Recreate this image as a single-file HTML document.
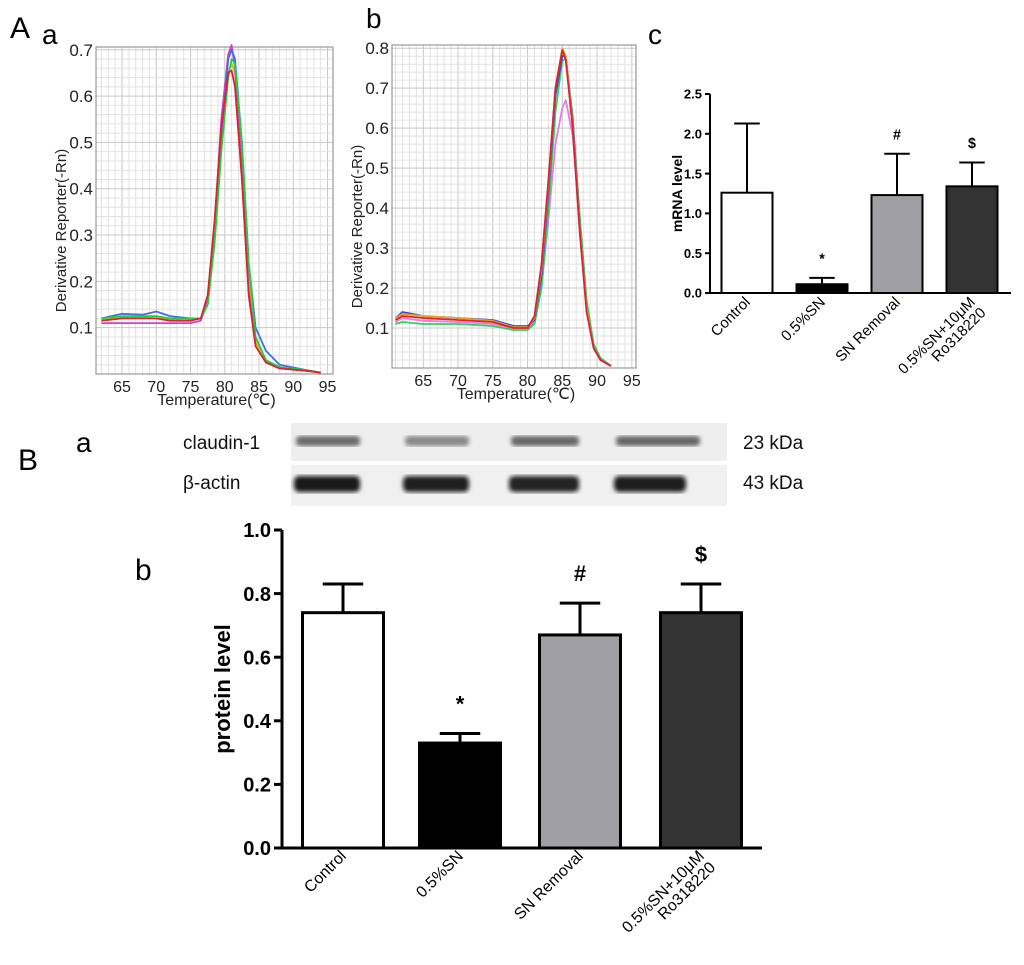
<!DOCTYPE html>
<html><head><meta charset="utf-8"><style>
html,body{margin:0;padding:0;background:#fff;}
svg{display:block;font-family:"Liberation Sans",Arial,sans-serif;}
</style></head><body>
<svg id="fig" width="1024" height="965" viewBox="0 0 1024 965" xmlns="http://www.w3.org/2000/svg">
<defs><filter id="blur"><feGaussianBlur stdDeviation="2.2"/></filter></defs>
<g id="root"></g>
</svg>
<script>
// ---- Melt curve data (panel A a) ----
const meltA_temps = [62,65,68,70,72,75,76.5,77.5,78.5,79.5,80.5,81,81.5,82.5,83.5,84.5,86,88,92,94];
const meltA_red    = [0.115,0.12,0.12,0.12,0.115,0.115,0.12,0.17,0.33,0.53,0.65,0.655,0.62,0.42,0.17,0.06,0.025,0.012,0.007,0.003];
const meltA_green  = [0.12,0.125,0.125,0.125,0.12,0.12,0.12,0.15,0.28,0.48,0.64,0.68,0.67,0.5,0.24,0.08,0.03,0.015,0.008,0.003];
const meltA_blue   = [0.12,0.13,0.128,0.135,0.125,0.12,0.12,0.15,0.29,0.5,0.68,0.70,0.68,0.5,0.24,0.1,0.05,0.02,0.008,0.003];
const meltA_purple = [0.11,0.11,0.11,0.11,0.11,0.11,0.115,0.16,0.32,0.55,0.69,0.71,0.66,0.44,0.18,0.06,0.025,0.012,0.007,0.003];
const meltA_yellow = [0.118,0.122,0.122,0.12,0.118,0.118,0.12,0.155,0.3,0.5,0.65,0.67,0.65,0.47,0.21,0.07,0.028,0.013,0.007,0.003];
// ---- Melt curve data (panel A b) ----
const meltB_temps = [61,62,65,70,75,78,80,81,82,83,84,85,85.5,86.5,87.5,88.5,89.5,90.5,92];
const meltB_red    = [0.12,0.13,0.125,0.12,0.115,0.1,0.1,0.13,0.26,0.47,0.7,0.795,0.77,0.6,0.34,0.14,0.05,0.02,0.005];
const meltB_green  = [0.11,0.115,0.11,0.11,0.105,0.095,0.095,0.11,0.2,0.4,0.64,0.77,0.77,0.63,0.38,0.17,0.06,0.025,0.005];
const meltB_blue   = [0.125,0.14,0.13,0.125,0.12,0.105,0.105,0.12,0.23,0.44,0.68,0.78,0.78,0.62,0.36,0.15,0.05,0.02,0.005];
const meltB_orange = [0.125,0.135,0.13,0.125,0.118,0.102,0.102,0.125,0.25,0.46,0.7,0.8,0.78,0.61,0.35,0.15,0.05,0.02,0.005];
const meltB_pink   = [0.115,0.125,0.118,0.115,0.11,0.1,0.1,0.115,0.2,0.37,0.56,0.65,0.67,0.58,0.36,0.16,0.06,0.02,0.005];
// ---- Bar data ----
const categories = ["Control","0.5%SN","SN Removal","0.5%SN+10μM\nRo318220"];
const mrnaValues = [1.26,0.11,1.23,1.34];
const mrnaErrors = [0.87,0.08,0.52,0.30];
const mrnaMarks  = ["","*","#","$"];
const mrnaTicks  = [0,0.5,1.0,1.5,2.0,2.5];
const protValues = [0.74,0.33,0.67,0.74];
const protErrors = [0.09,0.03,0.10,0.09];
const protMarks  = ["","*","#","$"];
const protTicks  = [0,0.2,0.4,0.6,0.8,1.0];
const barFills   = ["#ffffff","#000000","#a0a0a4","#333333"];
const meltATicksX = [65,70,75,80,85,90,95];
const meltATicksY = [0.1,0.2,0.3,0.4,0.5,0.6,0.7];
const meltBTicksY = [0.1,0.2,0.3,0.4,0.5,0.6,0.7,0.8];
const bandClaudin=[0.7,0.55,0.72,0.72];
const bandActin=[0.95,0.92,0.9,0.93];

const NS="http://www.w3.org/2000/svg";
const root=document.getElementById('root');
function mk(tag,attrs,parent,text){const e=document.createElementNS(NS,tag);for(const k in attrs)e.setAttribute(k,attrs[k]);if(text!==undefined)e.textContent=text;(parent||root).appendChild(e);return e;}

function label(txt,x,y,size){const t=mk('text',{x:x,y:y,'font-size':size,fill:'#000'},root,txt);

return t;}
label('A',10,38,30);label('a',42,44,28);label('b',366,28,28);label('c',648,44,28);
label('B',18,470,30);label('a',76,452,28);label('b',135,580,30);

function meltPanel(name,L,R,T,B,xmin,xmax,ymax,temps,series,colors,ticksY){
  const g=mk('g',{});
  
  
  const sx=v=>L+(v-xmin)/(xmax-xmin)*(R-L);
  const sy=v=>B-v/ymax*(B-T);
  for(let t=Math.ceil(xmin);t<=xmax;t++){const x=sx(t);mk('line',{x1:x,x2:x,y1:T,y2:B,stroke:t%5==0?'#c8c8c8':'#e2e2e2','stroke-width':1},g);}
  for(let v=0.02;v<ymax;v+=0.02){const y=sy(v);const major=Math.abs(v*10-Math.round(v*10))<1e-6;mk('line',{x1:L,x2:R,y1:y,y2:y,stroke:major?'#c8c8c8':'#e2e2e2','stroke-width':1},g);}
  mk('rect',{x:L,y:T,width:R-L,height:B-T,fill:'none',stroke:'#999','stroke-width':1.2},g);
  series.forEach((s,i)=>{
    const pts=temps.map((t,j)=>sx(t).toFixed(1)+','+sy(s[j]).toFixed(1)).join(' ');
    const p=mk('polyline',{points:pts,fill:'none',stroke:colors[i],'stroke-width':1.8,'stroke-linejoin':'round'},g);
    
    
  });
  ticksY.forEach(v=>{const t=mk('text',{x:L-3,y:sy(v)+6,'font-size':17,'text-anchor':'end',fill:'#222'},g,v.toFixed(1));
    
    });
  meltATicksX.forEach(v=>{const t=mk('text',{x:sx(v),y:B+18,'font-size':16,'text-anchor':'middle',fill:'#222'},g,String(v));
    
    });
  const xt=mk('text',{x:(L+R)/2+2,y:B+31,'font-size':16,'text-anchor':'middle',fill:'#222'},g,'Temperature(℃)');
  
  
  const yt=mk('text',{x:0,y:0,'font-size':15,'text-anchor':'middle',fill:'#222',transform:`translate(${L-30},${(T+B)/2+20}) rotate(-90)`},g,'Derivative Reporter(-Rn)');
  
  
}
meltPanel('melt-curve-chart-a',96,333,47,374,61.2,95.8,0.706,meltA_temps,
  [meltA_yellow,meltA_purple,meltA_blue,meltA_green,meltA_red],['#e0c000','#d040d0','#4070e0','#20d040','#e02030'],meltATicksY);
meltPanel('melt-curve-chart-b',392,636,45,368,60.5,95.6,0.808,meltB_temps,
  [meltB_pink,meltB_green,meltB_blue,meltB_orange,meltB_red],['#e080e0','#30d060','#3050d0','#f0a020','#e02030'],meltBTicksY);

function barChart(name,axisX,axisEnd,y0,yTop,vmax,centers,bw,vals,errs,marks,ticks,fs,lw,ytitle,ytitleX,labelFs,labelDy,ticklen,titleFs){
  const g=mk('g',{});
  
  
  const sy=v=>y0-v/vmax*(y0-yTop);
  vals.forEach((v,i)=>{
    const cx=centers[i];
    const eb=mk('g',{},g);
    
    
    mk('line',{x1:cx,x2:cx,y1:sy(v),y2:sy(v+errs[i]),stroke:'#000','stroke-width':lw},eb);
    mk('line',{x1:cx-bw*0.25,x2:cx+bw*0.25,y1:sy(v+errs[i]),y2:sy(v+errs[i]),stroke:'#000','stroke-width':lw},eb);
    const r=mk('rect',{x:cx-bw/2,y:sy(v),width:bw,height:y0-sy(v),fill:barFills[i],stroke:'#000','stroke-width':lw},g);
    
    
    if(marks[i]){const m=mk('text',{x:cx,y:sy(v+errs[i])-fs*1.1,'font-size':fs*1.1,'font-weight':'bold','text-anchor':'middle'},g,marks[i]);
      
      }
    const lines=categories[i].split('\n');
    const lt=mk('text',{'font-size':labelFs,'text-anchor':'end',transform:`translate(${cx+4},${y0+labelDy}) rotate(-45)`},g);
    
    
    lines.forEach((ln,k)=>mk('tspan',{x:0,dy:k?labelFs*1.0:0},lt,ln));
  });
  mk('line',{x1:axisX,x2:axisX,y1:yTop,y2:y0,stroke:'#000','stroke-width':lw},g);
  mk('line',{x1:axisX-ticklen,x2:axisEnd,y1:y0,y2:y0,stroke:'#000','stroke-width':lw},g);
  ticks.forEach(v=>{mk('line',{x1:axisX-ticklen,x2:axisX,y1:sy(v),y2:sy(v),stroke:'#000','stroke-width':lw},g);
    const t=mk('text',{x:axisX-ticklen-3,y:sy(v)+fs*0.36,'font-size':fs,'font-weight':'bold','text-anchor':'end'},g,v.toFixed(1));
    
    });
  const yt=mk('text',{'font-size':titleFs,'font-weight':'bold','text-anchor':'middle',transform:`translate(${ytitleX},${(y0+yTop)/2}) rotate(-90)`},g,ytitle);
  
  
}
barChart('mrna-bar-chart',710,1011,293,94,2.5,[747,822,897,972],51,mrnaValues,mrnaErrors,mrnaMarks,mrnaTicks,13,2,'mRNA level',682,15,10,5,14);
barChart('protein-bar-chart',282,762,848,530,1.0,[343,460,580,701],81,protValues,protErrors,protMarks,protTicks,20,3,'protein level',230,16,9,8,22);

// ---- Western blot ----
const wb=mk('g',{});


mk('rect',{x:291,y:423,width:436,height:38,fill:'#eeeeee'},wb);
mk('rect',{x:291,y:465,width:436,height:41,fill:'#f0f0f0'},wb);
const lanes=[[296,64],[405,64],[511,68],[616,84]];
bandClaudin.forEach((a,i)=>{const b=mk('rect',{x:lanes[i][0],y:436,width:lanes[i][1],height:10,rx:4,fill:'#333','fill-opacity':a,filter:'url(#blur)'},wb);
  
  });
bandActin.forEach((a,i)=>{const b=mk('rect',{x:lanes[i][0]-2,y:476,width:lanes[i][1]-(i==3?14:0)+2,height:16,rx:5,fill:'#111','fill-opacity':a,filter:'url(#blur)'},wb);
  
  });
[['claudin-1',183,449,'claudin-label'],['β-actin',183,489,'actin-label'],['23 kDa',743,449,'claudin-kda'],['43 kDa',743,489,'actin-kda']].forEach(d=>{
  const t=mk('text',{x:d[1],y:d[2],'font-size':19,fill:'#111'},wb,d[0]);
  
  });
</script>
</body></html>
